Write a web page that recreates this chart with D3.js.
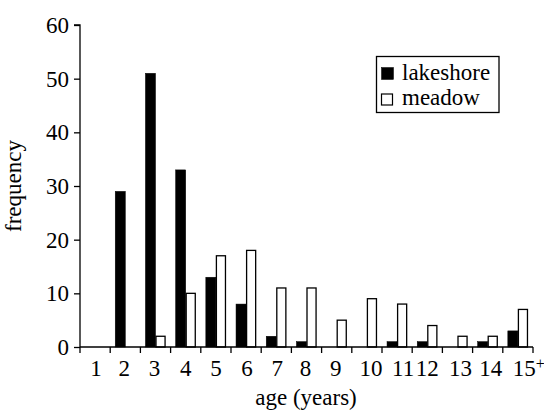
<!DOCTYPE html>
<html><head><meta charset="utf-8">
<script src="https://cdn.jsdelivr.net/npm/d3@7"></script>
<style>body{margin:0;background:#fff}svg{display:block}</style>
</head><body><svg id="c" width="544" height="412"></svg>
<script>
const categories = ["1","2","3","4","5","6","7","8","9","10","11","12","13","14","15"];
const lakeshore = [0,29,51,33,13,8,2,1,0,0,1,1,0,1,3];
const meadow    = [0,0,2,10,17,18,11,11,5,9,8,4,2,2,7];
const yTicks = [0,10,20,30,40,50,60];
const seriesNames = ["lakeshore","meadow"];
const FONT = "'Liberation Serif', 'Times New Roman', Times, 'DejaVu Serif', serif";
const FS = "23px";
// small nudges of the typeset tick labels, as in the original figure
const labelNudge = [1,-1,-1,0,0,1,1,-1,-1,4,6,0,3,3,0];

const svg = d3.select("#c");
const m = {l:80, r:11, t:25, b:65};
const W = 544, H = 412;
const x = d3.scaleBand().domain(categories).range([m.l, W - m.r]).paddingInner(0).paddingOuter(0);
const y = d3.scaleLinear().domain([0,60]).range([H - m.b, m.t]);
const inner = d3.scaleBand().domain(seriesNames).range([0, x.bandwidth()]).paddingInner(0).paddingOuter(0.5);

const g = svg.append("g");
categories.forEach((c,i) => {
  [[lakeshore[i],"lakeshore","#000"],[meadow[i],"meadow","#fff"]].forEach(([v,s,f]) => {
    if (v <= 0) return;
    g.append("rect")
      .attr("x", x(c) + inner(s) + (s==="meadow"?0.5:0))
      .attr("y", y(v))
      .attr("width", inner.bandwidth() - (s==="meadow"?1:0))
      .attr("height", y(0) - y(v))
      .attr("fill", f).attr("stroke", "#000").attr("stroke-width", s==="meadow"?1.3:0.5);
  });
});

// y axis
const ya = svg.append("g").attr("transform", `translate(${m.l},0)`)
  .call(d3.axisLeft(y).tickValues(yTicks).tickSize(6).tickPadding(5));
ya.attr("font-family", FONT).attr("font-size", 23);
ya.select(".domain").attr("stroke-width",1.3).attr("d", `M-6,${y(60)}H0V${y(0)}`);
ya.selectAll(".tick line").attr("stroke-width",1.3);
ya.selectAll(".tick text").style("font-family", FONT).style("font-size",FS).attr("dy","0.32em");

// x axis
const xa = svg.append("g").attr("transform", `translate(0,${y(0)})`);
xa.append("line").attr("x1", m.l).attr("x2", W - m.r).attr("y1",0).attr("y2",0).attr("stroke","#000").attr("stroke-width",1.3);
const bounds = categories.map(c => x(c)).concat([W - m.r]);
xa.selectAll("line.tk").data(bounds).enter().append("line").attr("class","tk")
  .attr("x1", d=>d).attr("x2", d=>d).attr("y1",0).attr("y2",6).attr("stroke","#000").attr("stroke-width",1.3);
xa.selectAll("text.lb").data(categories).enter().append("text").attr("class","lb")
  .attr("x", (d,i) => x(d) + x.bandwidth()/2 + labelNudge[i]).attr("y", 29).attr("text-anchor","middle")
  .style("font-family", FONT).style("font-size",FS)
  .each(function(d,i){
    const t = d3.select(this);
    if (i === categories.length-1) {
      t.attr("text-anchor","start").attr("x", x(d) + 10);
      t.append("tspan").text(d);
      t.append("tspan").text("+").attr("dy",-7).style("font-size","16px");
    } else t.text(d);
  });

// axis titles
svg.append("text").attr("x", 306).attr("y", 405).attr("text-anchor","middle").style("font-family", FONT).style("font-size",FS).text("age (years)");
svg.append("text").attr("transform","translate(21,186) rotate(-90)").attr("text-anchor","middle").style("font-family", FONT).style("font-size",FS).text("frequency");

// legend
const lg = svg.append("g");
lg.append("rect").attr("x",376.5).attr("y",56.5).attr("width",122.5).attr("height",56).attr("fill","#fff").attr("stroke","#000").attr("stroke-width",1.3);
seriesNames.forEach((s,i) => {
  lg.append("rect").attr("x",381.5).attr("y",i===0?67.5:94).attr("width",i===0?12:11).attr("height",i===0?12:11)
    .attr("fill", i===0?"#000":"#fff").attr("stroke","#000").attr("stroke-width",i===0?0.5:1.2);
  lg.append("text").attr("x",402).attr("y",80 + i*25).style("font-family", FONT).style("font-size",FS).text(s);
});
</script></body></html>
